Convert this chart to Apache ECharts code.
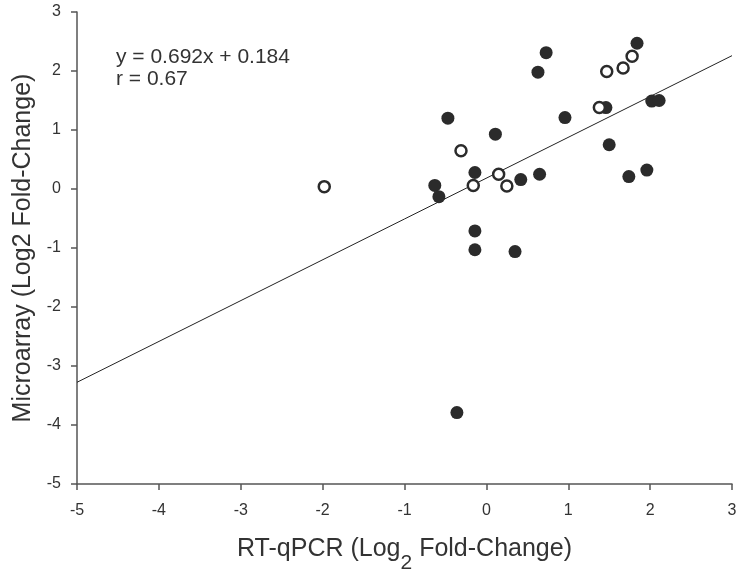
<!DOCTYPE html>
<html>
<head>
<meta charset="utf-8">
<script src="https://cdn.jsdelivr.net/npm/echarts@6/dist/echarts.min.js"></script>
<style>
html, body { margin: 0; padding: 0; background: #fff; }
#chart { width: 742px; height: 573px; }
</style>
</head>
<body>
<div id="chart"></div>
<script>
// filled circles: [RT-qPCR, Microarray]
var filledPoints = [
    [-0.47, 1.20], [-0.63, 0.06], [-0.58, -0.13], [-0.14, 0.28],
    [-0.14, -0.71], [-0.14, -1.03], [0.11, 0.93], [0.73, 2.31],
    [0.63, 1.98], [1.84, 2.47], [1.46, 1.38], [2.02, 1.49],
    [2.11, 1.50], [0.96, 1.21], [1.50, 0.75], [0.65, 0.25],
    [0.42, 0.16], [1.74, 0.21], [1.96, 0.32], [0.35, -1.06],
    [-0.36, -3.79]
];
// open circles
var openPoints = [
    [-1.98, 0.04], [-0.31, 0.65], [-0.16, 0.06], [0.15, 0.25],
    [0.25, 0.05], [1.38, 1.38], [1.47, 1.99], [1.67, 2.05],
    [1.78, 2.25]
];
var slope = 0.692;
var intercept = 0.184;
var xRange = [-5, 3];
var yRange = [-5, 3];

var fitLine = xRange.map(function (x) { return [x, slope * x + intercept]; });

var myChart = echarts.init(document.getElementById('chart'));
var axisColor = '#555';
var font = 'Liberation Sans, Arial, sans-serif';

var option = {
    animation: false,
    grid: { left: 77, right: 10, top: 12, bottom: 89, containLabel: false, outerBoundsMode: 'none' },
    graphic: [
        {
            type: 'text', left: 116, top: 46,
            style: {
                text: 'y = 0.692x + 0.184\nr = 0.67',
                fontSize: 21, lineHeight: 22,
                fontFamily: font,
                fill: '#333'
            }
        }
    ],
    xAxis: {
        type: 'value', min: xRange[0], max: xRange[1], interval: 1,
        name: '{n|RT-qPCR (Log}{s|2}{n| Fold-Change)}',
        nameLocation: 'middle', nameGap: 41,
        nameTextStyle: {
            rich: {
                n: { fontSize: 25, color: '#333', fontFamily: font },
                s: { fontSize: 21, color: '#333', fontFamily: font, padding: [28, 0, 0, 0] }
            }
        },
        axisLine: { onZero: false, lineStyle: { color: axisColor, width: 1.5 } },
        axisTick: { length: 6, lineStyle: { color: axisColor, width: 1.5 } },
        axisLabel: { margin: 19, color: '#333', fontSize: 16, fontFamily: font },
        splitLine: { show: false }
    },
    yAxis: {
        type: 'value', min: yRange[0], max: yRange[1], interval: 1,
        name: 'Microarray (Log2 Fold-Change)',
        nameLocation: 'middle', nameGap: 37,
        nameTextStyle: { fontSize: 25, color: '#333', fontFamily: font },
        axisLine: { onZero: false, lineStyle: { color: axisColor, width: 1.5 } },
        axisTick: { length: 6, lineStyle: { color: axisColor, width: 1.5 } },
        axisLabel: { margin: 16, color: '#333', fontSize: 16, fontFamily: font },
        splitLine: { show: false }
    },
    series: [
        {
            type: 'line', data: fitLine, showSymbol: false, symbol: 'none',
            lineStyle: { color: '#222', width: 1 }, z: 1
        },
        {
            type: 'scatter', data: filledPoints, symbol: 'circle', symbolSize: 13,
            itemStyle: { color: '#2b2b2b', opacity: 1 }, z: 3
        },
        {
            type: 'scatter', data: openPoints, symbol: 'circle', symbolSize: 11,
            itemStyle: { color: '#fff', borderColor: '#2b2b2b', borderWidth: 2.5, opacity: 1 }, z: 4
        }
    ]
};
myChart.setOption(option);
</script>
</body>
</html>
